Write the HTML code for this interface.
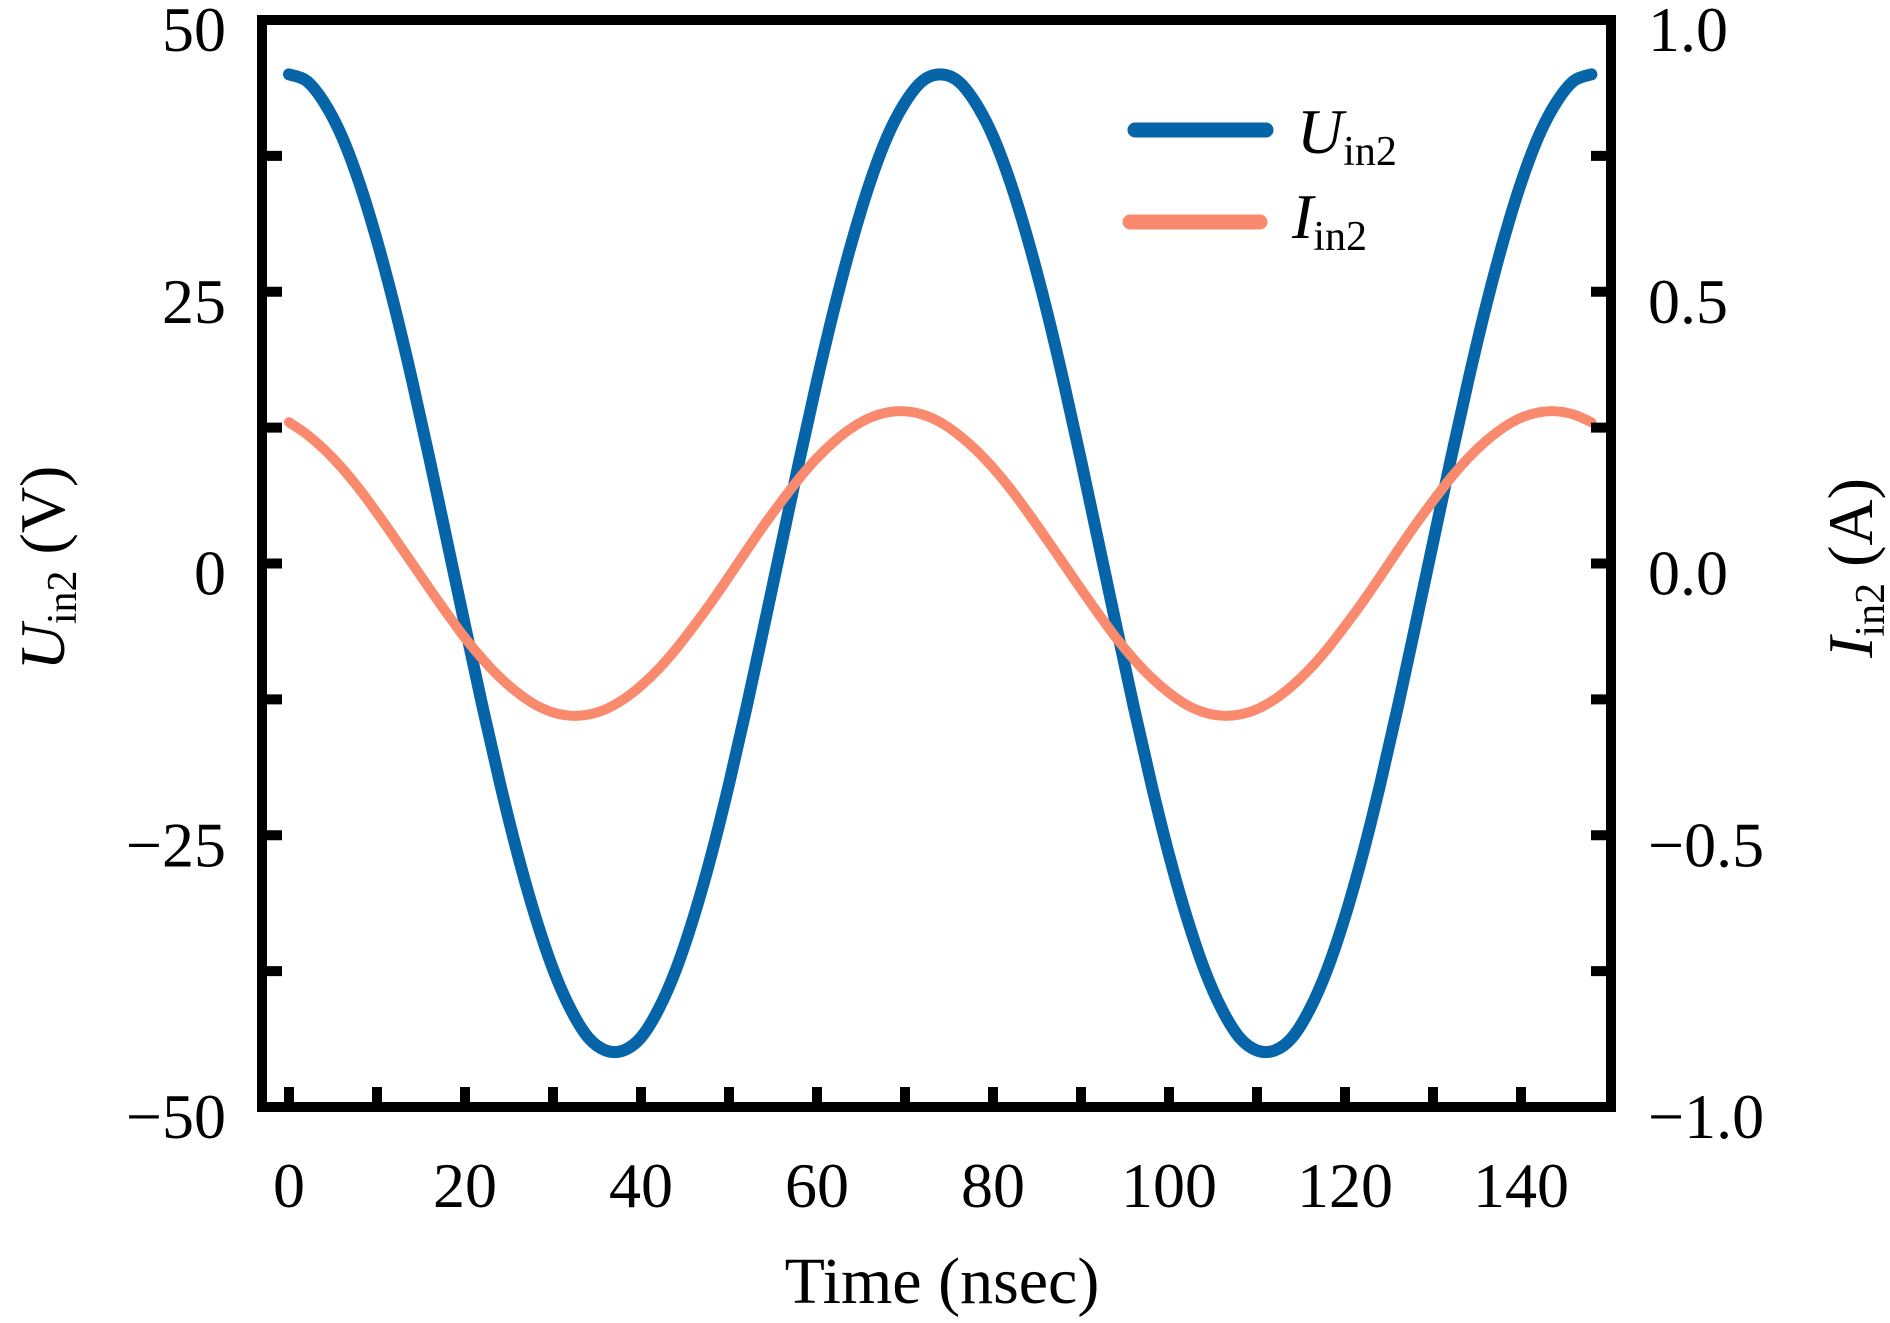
<!DOCTYPE html>
<html><head><meta charset="utf-8"><style>
html,body{margin:0;padding:0;background:#fff;}
svg{display:block;font-family:"Liberation Serif",serif;}
</style></head><body>
<svg id="chart" width="1890" height="1323" viewBox="0 0 1890 1323">
<g id="series"></g>
<g id="axes"></g>
<g id="labels"></g>
<g>
 <line x1="1135" y1="130" x2="1266" y2="130" stroke="#0565a8" stroke-width="15" stroke-linecap="round"/>
 <text x="1297" y="153" font-size="64" font-style="italic">U<tspan font-size="42" font-style="normal" dy="12">in2</tspan></text>
 <line x1="1130" y1="222" x2="1260" y2="222" stroke="#fa8a6e" stroke-width="15" stroke-linecap="round"/>
 <text x="1292" y="238" font-size="64" font-style="italic">I<tspan font-size="42" font-style="normal" dy="12">in2</tspan></text>
</g>
<text x="942" y="1303" font-size="66" text-anchor="middle">Time (nsec)</text>
<text transform="translate(64,568) rotate(-90)" font-size="64" text-anchor="middle"><tspan font-style="italic">U</tspan><tspan font-size="42" dy="12">in2</tspan><tspan dy="-12"> (V)</tspan></text>
<text transform="translate(1872,568) rotate(-90)" font-size="64" text-anchor="middle"><tspan font-style="italic">I</tspan><tspan font-size="42" dy="12">in2</tspan><tspan dy="-12"> (A)</tspan></text>
</svg>
<script>
const times = [0,2,4,6,8,10,12,14,16,18,20,22,24,26,28,30,32,34,36,38,40,42,44,46,48,50,52,54,56,58,60,62,64,66,68,70,72,74,76,78,80,82,84,86,88,90,92,94,96,98,100,102,104,106,108,110,112,114,116,118,120,122,124,126,128,130,132,134,136,138,140,142,144,146,148];
const voltage = [45,44.4,42.4,39.3,35.0,29.7,23.6,16.8,9.5,1.9,-5.7,-13.2,-20.3,-26.8,-32.5,-37.3,-41.0,-43.6,-44.8,-44.8,-43.6,-41.0,-37.3,-32.5,-26.8,-20.3,-13.2,-5.7,1.9,9.5,16.8,23.6,29.7,35.0,39.3,42.4,44.4,45,44.4,42.4,39.3,35.0,29.7,23.6,16.8,9.5,1.9,-5.7,-13.2,-20.3,-26.8,-32.5,-37.3,-41.0,-43.6,-44.8,-44.8,-43.6,-41.0,-37.3,-32.5,-26.8,-20.3,-13.2,-5.7,1.9,9.5,16.8,23.6,29.7,35.0,39.3,42.4,44.4,45];
const current = [0.260,0.238,0.210,0.176,0.137,0.093,0.047,0,-0.047,-0.093,-0.137,-0.176,-0.210,-0.238,-0.260,-0.274,-0.280,-0.278,-0.268,-0.250,-0.225,-0.194,-0.157,-0.115,-0.071,-0.024,0.024,0.071,0.115,0.157,0.194,0.225,0.250,0.268,0.278,0.280,0.274,0.260,0.238,0.210,0.176,0.137,0.093,0.047,0,-0.047,-0.093,-0.137,-0.176,-0.210,-0.238,-0.260,-0.274,-0.280,-0.278,-0.268,-0.250,-0.225,-0.194,-0.157,-0.115,-0.071,-0.024,0.024,0.071,0.115,0.157,0.194,0.225,0.250,0.268,0.278,0.280,0.274,0.260];
const xTicks = [0,20,40,60,80,100,120,140];
const xMinor = [10,30,50,70,90,110,130];
const yLeftTicks = [-50,-25,0,25,50];
const yLeftLabels = ["\u221250","\u221225","0","25","50"];
const yMinor = [-37.5,-12.5,12.5,37.5];
const yRightTicks = [-1.0,-0.5,0.0,0.5,1.0];
const yRightLabels = ["\u22121.0","\u22120.5","0.0","0.5","1.0"];

const NS='http://www.w3.org/2000/svg';
const L=262,R=1611,T=20,B=1107;
const X0=289, PX=8.8;
function xs(t){return X0+t*PX;}
function yv(v){return B-(v+50)/100*(B-T);}
function ya(a){return B-(a+1)/2*(B-T);}
function mk(tag,attrs,parent){const e=document.createElementNS(NS,tag);for(const k in attrs)e.setAttribute(k,attrs[k]);parent.appendChild(e);return e;}
function smooth(p){
 let d='M'+p[0][0]+','+p[0][1];
 for(let i=0;i<p.length-1;i++){
  const p0=p[i-1]||p[i],p1=p[i],p2=p[i+1],p3=p[i+2]||p2;
  const c1x=p1[0]+(p2[0]-p0[0])/6,c1y=p1[1]+(p2[1]-p0[1])/6;
  const c2x=p2[0]-(p3[0]-p1[0])/6,c2y=p2[1]-(p3[1]-p1[1])/6;
  d+=' C'+c1x+','+c1y+' '+c2x+','+c2y+' '+p2[0]+','+p2[1];
 }
 return d;
}
const series=document.getElementById('series'),axes=document.getElementById('axes'),labels=document.getElementById('labels');

const pu=mk('path',{d:smooth(times.map((t,i)=>[xs(t),yv(voltage[i])])),fill:'none',stroke:'#0565a8','stroke-width':12,'stroke-linejoin':'round','stroke-linecap':'round'},series);


const pi=mk('path',{d:smooth(times.map((t,i)=>[xs(t),ya(current[i])])),fill:'none',stroke:'#fa8a6e','stroke-width':10,'stroke-linejoin':'round','stroke-linecap':'round'},series);



const fr=mk('rect',{x:L,y:T,width:R-L,height:B-T,fill:'none',stroke:'#000','stroke-width':10},axes);



xTicks.concat(xMinor).forEach(t=>{
 const l=mk('line',{x1:xs(t),x2:xs(t),y1:B,y2:B-20,stroke:'#000','stroke-width':10},axes);
 
 
});
xTicks.forEach(t=>{
 const tx=mk('text',{x:xs(t),y:1207,'font-size':64,'text-anchor':'middle'},labels);
 tx.textContent=t;
 
 
});
yLeftTicks.concat(yMinor).forEach(v=>{
 const l=mk('line',{x1:L,x2:L+20,y1:yv(v),y2:yv(v),stroke:'#000','stroke-width':10},axes);
 
 
 const r=mk('line',{x1:R,x2:R-20,y1:yv(v),y2:yv(v),stroke:'#000','stroke-width':10},axes);
 
 
});
yLeftTicks.forEach((v,i)=>{
 const tx=mk('text',{x:226,y:yv(v)+31,'font-size':64,'text-anchor':'end'},labels);
 tx.textContent=yLeftLabels[i];
 
 
});
yRightTicks.forEach((a,i)=>{
 const tx=mk('text',{x:1648,y:ya(a)+31,'font-size':64,'text-anchor':'start'},labels);
 tx.textContent=yRightLabels[i];
 
 
});
</script>
</body></html>
